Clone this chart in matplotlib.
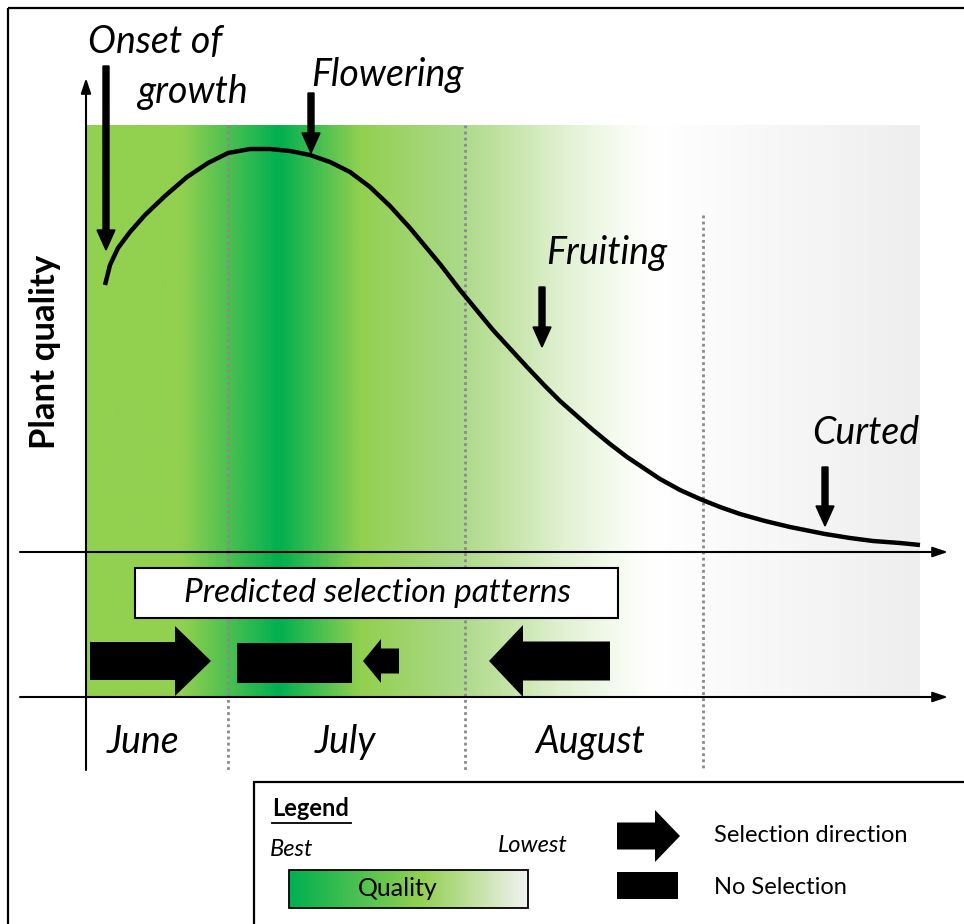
import numpy as np
import matplotlib.pyplot as plt
from matplotlib.colors import LinearSegmentedColormap
from matplotlib.patches import FancyArrow, Rectangle

plt.rcParams['font.family'] = ['Lato', 'DejaVu Sans']

# --- data (drawing units = pixels of the 964x924 image) ---
# quality curve over the season
curve_x = [105, 110, 118, 130, 145, 165, 187, 208, 228, 250, 270, 290, 310, 330,
           350, 370, 390, 410, 440, 460, 493, 527, 545, 560, 577, 593, 610, 627,
           645, 660, 680, 700, 720, 740, 765, 790, 825, 850, 873, 900, 920]
curve_y = [285, 265, 248, 232, 215, 196, 177, 163, 153, 149, 149, 151, 155, 162,
           172, 187, 206, 228, 264, 290, 330, 367, 386, 401, 416, 430, 444, 457,
           469, 479, 490, 499, 507, 514, 521, 527, 534, 538, 541, 543, 545]

# month boundaries and labels
month_bounds = [228, 465, 703]
month_names = ['June', 'July', 'August']
month_centers = [143, 345, 590]

# phenology stages: label, arrow x, arrow top, arrow tip
stage_names = ['Onset of\ngrowth', 'Flowering', 'Fruiting', 'Curted']
stage_x = [106, 311, 542, 825]
stage_top = [66, 93, 287, 467]
stage_tip = [250, 153, 347, 526]

# quality gradient (position along season 0..1, colour)
quality_stops = [(0.0, '#92d050'), (0.113, '#92d050'), (0.230, '#00b050'),
                 (0.329, '#92d050'), (0.448, '#acd98a'), (0.496, '#c0e2a0'),
                 (0.568, '#dff0cf'), (0.640, '#f6fbf0'), (0.682, '#ffffff'),
                 (1.0, '#eeeeee')]

# predicted selection: (start x, length, shaft width, head width, head length)
sel_arrows = [(90, 121, 38, 70, 36),
              (399, -36, 25, 44, 18),
              (610, -121, 39, 72, 34)]
no_sel = (237, 643, 115, 40)

fig = plt.figure(figsize=(9.64, 9.24), dpi=100)
ax = fig.add_axes([0, 0, 1, 1])
ax.set_xlim(0, 964)
ax.set_ylim(924, 0)
ax.axis('off')

# background quality gradient
cmap = LinearSegmentedColormap.from_list('quality', quality_stops)
ax.imshow(np.linspace(0, 1, 600)[None, :], cmap=cmap, aspect='auto',
          extent=(86, 920, 697, 125), interpolation='bilinear', zorder=0)

# outer frame
ax.add_patch(Rectangle((8, 8), 1000, 1000, fill=False, lw=1.6, ec='k', zorder=1))

# month dividers
for i, xb in enumerate(month_bounds):
    top = 125 if i < 2 else 215
    ax.plot([xb, xb], [top, 770], color='#8a8a8a', lw=2, ls=(0, (1, 1.2)), zorder=1)

# axes
arrow_kw = dict(arrowstyle='-|>,head_length=0.9,head_width=0.3', color='k', lw=1.5,
                shrinkA=0, shrinkB=0)
ax.annotate('', xy=(86, 78), xytext=(86, 770), arrowprops=arrow_kw)
ax.annotate('', xy=(948, 552), xytext=(20, 552), arrowprops=arrow_kw)
ax.annotate('', xy=(948, 697), xytext=(20, 697), arrowprops=arrow_kw)

# quality curve
ax.plot(curve_x, curve_y, color='k', lw=3.2, solid_capstyle='butt',
        solid_joinstyle='round', zorder=3)

# stage labels and arrows
for x, top, tip in zip(stage_x, stage_top, stage_tip):
    ax.add_patch(FancyArrow(x, top, 0, tip - top, width=6, head_width=18,
                            head_length=20, length_includes_head=True,
                            color='k', zorder=4))
txt = dict(style='italic', fontsize=27, color='k', zorder=5)
ax.text(155, 42, 'Onset of', ha='center', va='center', **txt)
ax.text(192, 92, 'growth', ha='center', va='center', **txt)
ax.text(387, 75, stage_names[1], ha='center', va='center', **txt)
ax.text(607, 253, stage_names[2], ha='center', va='center', **txt)
ax.text(866, 433, stage_names[3], ha='center', va='center', **txt)

ax.text(45, 352, 'Plant quality', rotation=90, ha='center', va='center',
        fontsize=25, fontweight='bold')

# predicted selection patterns
ax.add_patch(Rectangle((135, 568), 483, 50, fc='white', ec='k', lw=1.5, zorder=3))
ax.text(377, 593, 'Predicted selection patterns', ha='center', va='center',
        style='italic', fontsize=24, zorder=4)
for x0, dx, w, hw, hl in sel_arrows:
    ax.add_patch(FancyArrow(x0, 661, dx, 0, width=w, head_width=hw, head_length=hl,
                            length_includes_head=True, color='k', lw=0, zorder=4))
ax.add_patch(Rectangle(no_sel[:2], no_sel[2], no_sel[3], color='k', lw=0, zorder=4))

for name, xc in zip(month_names, month_centers):
    ax.text(xc, 742, name, ha='center', va='center', **txt)

# legend
ax.add_patch(Rectangle((254, 782), 800, 300, fc='white', ec='k', lw=1.6, zorder=3))
ax.text(272, 809, 'Legend', ha='left', va='center', fontsize=17,
        fontweight='bold', zorder=4)
ax.plot([272, 351], [823, 823], color='k', lw=1.3, zorder=4)
ax.text(270, 850, 'Best', ha='left', va='center', style='italic', fontsize=17, zorder=4)
ax.text(568, 846, 'Lowest', ha='right', va='center', style='italic', fontsize=17,
        zorder=4)
leg_cmap = LinearSegmentedColormap.from_list(
    'leg', [(0, '#00b050'), (0.55, '#92d050'), (1, '#f2f2f2')])
ax.imshow(np.linspace(0, 1, 300)[None, :], cmap=leg_cmap, aspect='auto',
          extent=(289, 528, 908, 870), interpolation='bilinear', zorder=4)
ax.add_patch(Rectangle((289, 870), 239, 38, fill=False, ec='k', lw=1.3, zorder=5))
ax.text(398, 888, 'Quality', ha='center', va='center', fontsize=18, zorder=6)
ax.add_patch(FancyArrow(617, 836, 63, 0, width=27, head_width=52, head_length=25,
                        length_includes_head=True, color='k', lw=0, zorder=4))
ax.add_patch(Rectangle((617, 872), 61, 27, color='k', lw=0, zorder=4))
ax.text(714, 836, 'Selection direction', ha='left', va='center', fontsize=17, zorder=4)
ax.text(714, 888, 'No Selection', ha='left', va='center', fontsize=17, zorder=4)

fig.savefig('out.png', dpi=100)
